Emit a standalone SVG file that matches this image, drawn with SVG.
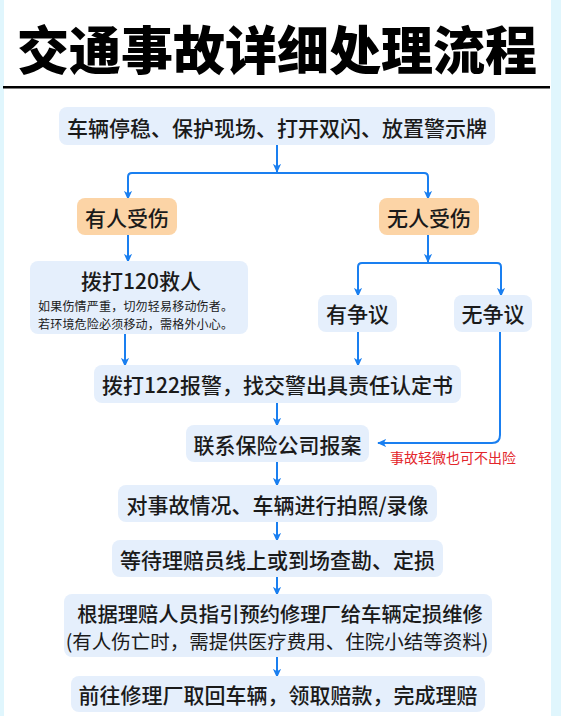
<svg xmlns="http://www.w3.org/2000/svg" width="561" height="716" viewBox="0 0 561 716">
<defs>
<style>
.bg{fill:#e0f6fd}
.panel{fill:#ffffff}
.box{fill:#e5effc}
.obox{fill:#fcd4a6}
.t{font-family:"Noto Sans CJK SC","Noto Sans",sans-serif;fill:#1a1a1a;text-anchor:middle;dominant-baseline:central;font-size:21px;font-weight:500}
.s{font-size:12px;font-weight:400;text-anchor:start}
.title{font-family:"Noto Sans CJK SC","Noto Sans",sans-serif;font-size:52px;font-weight:900;fill:#000;text-anchor:middle;dominant-baseline:central}
.red{font-family:"Noto Sans CJK SC","Noto Sans",sans-serif;font-size:14px;fill:#e3262b;dominant-baseline:central}
.c{fill:none;stroke:#1a7ff0;stroke-width:2;stroke-linejoin:round}
</style>
<marker id="ah" viewBox="0 0 10 10" refX="9" refY="5" markerWidth="9" markerHeight="9" markerUnits="userSpaceOnUse" orient="auto">
<path d="M0,0.5 L10,5 L0,9.5 L2.5,5 z" fill="#1a7ff0"/>
</marker>
</defs>
<rect class="bg" x="0" y="0" width="561" height="716"/>
<rect class="panel" x="4" y="0" width="547" height="716"/>
<g id="title">
<text class="title" x="277" y="47">交通事故详细处理流程</text>
<rect x="3" y="86" width="547" height="2.5" fill="#000"/>
</g>
<g id="connectors">
<path class="c" d="M277,145 V172" marker-end="url(#ah)"/>
<path class="c" d="M277,173 H132 Q128,173 128,177 V199" marker-end="url(#ah)"/>
<path class="c" d="M277,173 H424 Q428,173 428,177 V199" marker-end="url(#ah)"/>
<path class="c" d="M128,235 V262" marker-end="url(#ah)"/>
<path class="c" d="M428,235 V262" marker-end="url(#ah)"/>
<path class="c" d="M428,263 H362 Q358,263 358,267 V296" marker-end="url(#ah)"/>
<path class="c" d="M428,263 H497 Q501,263 501,267 V296" marker-end="url(#ah)"/>
<path class="c" d="M125,326 V366" marker-end="url(#ah)"/>
<path class="c" d="M358,332 V366" marker-end="url(#ah)"/>
<path class="c" d="M500,332 V435 Q500,443 492,443 H378" marker-end="url(#ah)"/>
<path class="c" d="M277,403 V426" marker-end="url(#ah)"/>
<path class="c" d="M277,462 V486" marker-end="url(#ah)"/>
<path class="c" d="M277,522 V541" marker-end="url(#ah)"/>
<path class="c" d="M277,577 V595" marker-end="url(#ah)"/>
<path class="c" d="M277,657 V677" marker-end="url(#ah)"/>
</g>
<g id="n1">
<rect class="box" x="59" y="107" width="436" height="38" rx="8"/>
<text class="t" x="277" y="127">车辆停稳、保护现场、打开双闪、放置警示牌</text>
</g>
<g id="n2">
<rect class="obox" x="77" y="198" width="100" height="37" rx="8"/>
<text class="t" x="127" y="217">有人受伤</text>
</g>
<g id="n3">
<rect class="obox" x="379" y="198" width="100" height="37" rx="8"/>
<text class="t" x="429" y="217">无人受伤</text>
</g>
<g id="n4">
<rect class="box" x="30" y="261" width="218" height="73" rx="8"/>
<text class="t" x="141" y="280">拨打120救人</text>
<text class="t s" x="38" y="305" textLength="195" lengthAdjust="spacing">如果伤情严重，切勿轻易移动伤者。</text>
<text class="t s" x="38" y="323" textLength="195" lengthAdjust="spacing">若环境危险必须移动，需格外小心。</text>
</g>
<g id="n5">
<rect class="box" x="318" y="295" width="79" height="37" rx="8"/>
<text class="t" x="357.5" y="313">有争议</text>
</g>
<g id="n6">
<rect class="box" x="454" y="295" width="78" height="37" rx="8"/>
<text class="t" x="493" y="313">无争议</text>
</g>
<g id="n7">
<rect class="box" x="94" y="365" width="367" height="38" rx="8"/>
<text class="t" x="277.5" y="384">拨打122报警，找交警出具责任认定书</text>
</g>
<g id="n8">
<rect class="box" x="186" y="425" width="183" height="37" rx="8"/>
<text class="t" x="277.5" y="444">联系保险公司报案</text>
<text class="red" x="390" y="457">事故轻微也可不出险</text>
</g>
<g id="n9">
<rect class="box" x="118" y="485" width="319" height="37" rx="8"/>
<text class="t" x="277.5" y="504">对事故情况、车辆进行拍照/录像</text>
</g>
<g id="n10">
<rect class="box" x="112" y="540" width="331" height="37" rx="8"/>
<text class="t" x="277.5" y="559">等待理赔员线上或到场查勘、定损</text>
</g>
<g id="n11">
<rect class="box" x="64" y="594" width="428" height="63" rx="8"/>
<text class="t" x="280" y="613" style="font-size:20.3px">根据理赔人员指引预约修理厂给车辆定损维修</text>
<text class="t" x="277" y="640" style="font-size:19.5px;font-weight:400">(有人伤亡时，需提供医疗费用、住院小结等资料)</text>
</g>
<g id="n12">
<rect class="box" x="71" y="676" width="414" height="36" rx="8"/>
<text class="t" x="278" y="694">前往修理厂取回车辆，领取赔款，完成理赔</text>
</g>
</svg>
